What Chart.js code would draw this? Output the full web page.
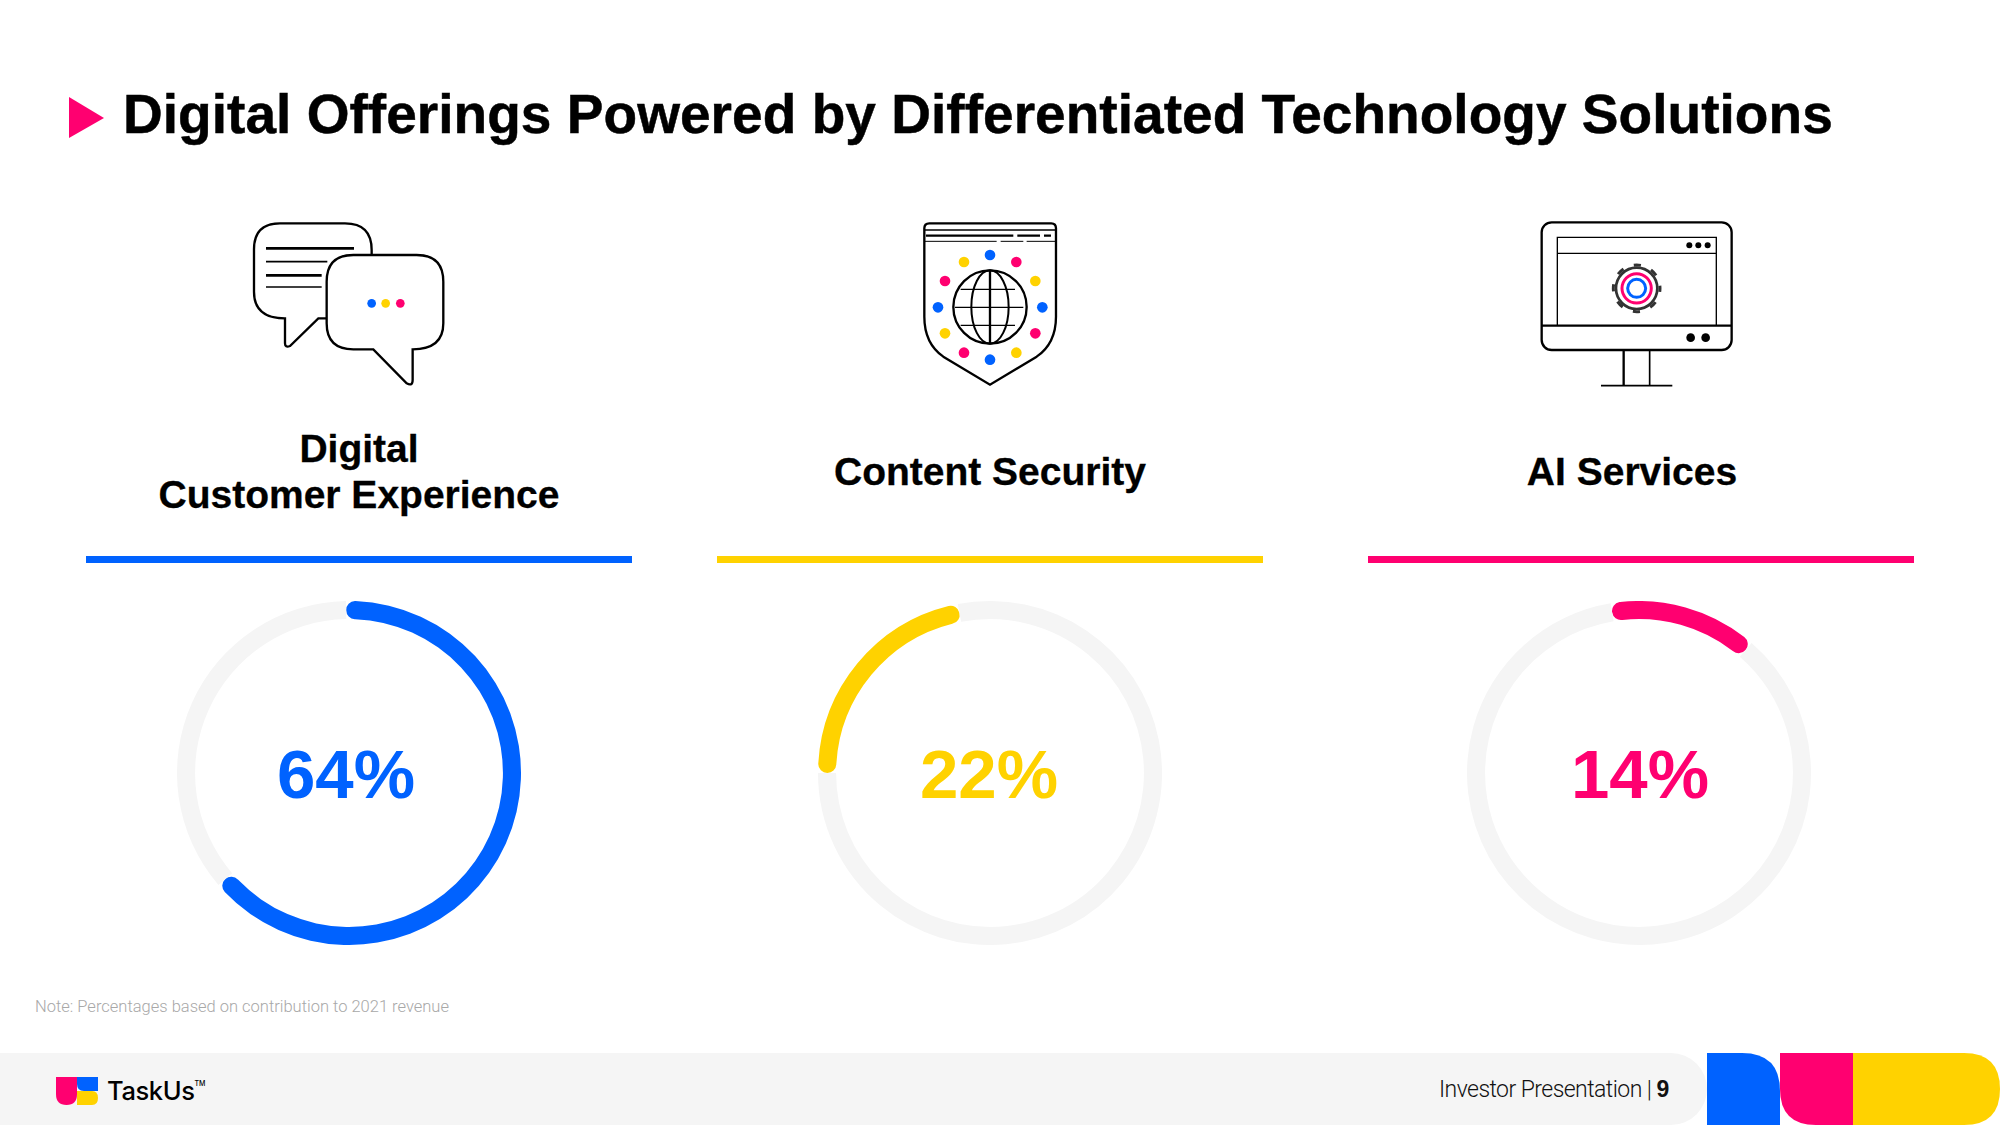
<!DOCTYPE html>
<html>
<head>
<meta charset="utf-8">
<title>Digital Offerings</title>
<script src="https://cdn.jsdelivr.net/npm/chart.js@4"></script>
<style>
    html, body { margin: 0; padding: 0; background: #fff; }
    body { position: relative; width: 2000px; height: 1125px; overflow: hidden; font-family: "Liberation Sans", Arial, sans-serif; color: #000; }
    .abs { position: absolute; white-space: nowrap; }
    #title { left: 123px; top: 81px; font-size: 55px; line-height: 66px; font-weight: 700; letter-spacing: 0.04px; -webkit-text-stroke: 0.5px #000; }
    .cat { font-size: 39px; line-height: 46px; font-weight: 700; text-align: center; transform: translateX(-50%); -webkit-text-stroke: 0.3px #000; }
    .rule { top: 556px; height: 7px; width: 546px; }
    canvas { position: absolute; top: 601px; }
    .pct { top: 735px; font-size: 69px; line-height: 80px; font-weight: 700; transform: translateX(-50%); }
    #note { left: 35px; top: 997px; font-family: Roboto, sans-serif; font-weight: 300; font-size: 16.5px; line-height: 20px; color: #a8a8a8; }
    #foot-text { left: 1439px; top: 1075px; font-family: Roboto, sans-serif; font-weight: 300; font-size: 23px; line-height: 28px; letter-spacing: -0.55px; color: #111; }
    #foot-text b { font-family: "Liberation Sans", sans-serif; font-weight: 700; }
    #brand { left: 107px; top: 1073px; font-family: Inter, sans-serif; font-size: 25.5px; line-height: 36px; font-weight: 500; letter-spacing: -0.4px; }
    #brand sup { font-size: 7px; letter-spacing: 0; vertical-align: 14px; line-height: 0; }
    svg { position: absolute; left: 0; top: 0; }
</style>
</head>
<body>
<svg width="2000" height="1125" viewBox="0 0 2000 1125">
    <path d="M69 97 L104 118 L69 138 Z" fill="#ff0070"/>

    <!-- footer -->
    <path d="M0 1053 H1671 A36 36 0 0 1 1671 1125 H0 Z" fill="#f5f5f5"/>
    <path d="M1707 1053 H1742 Q1780 1053 1780 1091 V1125 H1707 Z" fill="#0062ff"/>
    <path d="M1780 1053 H1854 V1125 H1816 Q1780 1125 1780 1089 Z" fill="#ff0070"/>
    <path d="M1853 1053 H1964 Q2000 1053 2000 1089 Q2000 1125 1964 1125 H1853 Z" fill="#ffd200"/>

    <!-- logo -->
    <path d="M56 1077 H77 V1094 Q77 1105 66.500 1105 Q56 1105 56 1094 Z" fill="#ff0070"/>
    <path d="M77 1077 H98 V1091 H84 Q77 1091 77 1084 Z" fill="#0062ff"/>
    <path d="M77 1091 H92 Q98 1091 98 1098 Q98 1105 92 1105 H77 Z" fill="#ffd200"/>

    <!-- chat icon -->
    <g transform="translate(240 210) scale(0.3333)" fill="none" stroke="#000" stroke-width="7">
        <path d="M395 135 V120 Q395 40 315 40 H120 Q42 40 42 118 V245 Q42 325 135 325 V400 Q135 414 150 408 L235 325 H260"/>
        <path d="M78 115 H342" stroke-width="8"/>
        <path d="M78 155 H262" stroke-width="5"/>
        <path d="M78 196 H245" stroke-width="8"/>
        <path d="M78 231 H245" stroke-width="5"/>
        <path d="M340 135 H530 Q610 135 610 215 V340 Q610 418 518 418 V510 Q518 530 500 520 L400 418 H340 Q260 418 260 340 V215 Q260 135 340 135 Z"/>
        <g stroke="none">
            <circle cx="395" cy="280" r="13" fill="#0062ff"/>
            <circle cx="437" cy="280" r="13" fill="#ffd200"/>
            <circle cx="481" cy="280" r="13" fill="#ff0070"/>
        </g>
    </g>

    <!-- shield icon -->
    <g transform="translate(890 210) scale(0.3333)" fill="none" stroke="#000" stroke-width="7">
        <path d="M103 55 Q103 40 118 40 H484 Q498 40 498 55 V320 Q498 400 440 440 L300 524 L160 440 Q103 400 103 320 Z"/>
        <path d="M105 60 H496" stroke-width="4"/>
        <path d="M108 77 H370 M382 77 H450 M462 77 H483" stroke-width="7"/>
        <path d="M105 94 H320 M332 94 H400 M410 94 H496" stroke-width="3"/>
        <g stroke="none">
            <circle cx="300" cy="135" r="16" fill="#0062ff"/>
            <circle cx="379" cy="156" r="16" fill="#ff0070"/>
            <circle cx="436" cy="213" r="16" fill="#ffd200"/>
            <circle cx="457" cy="292" r="16" fill="#0062ff"/>
            <circle cx="436" cy="370" r="16" fill="#ff0070"/>
            <circle cx="379" cy="428" r="16" fill="#ffd200"/>
            <circle cx="300" cy="449" r="16" fill="#0062ff"/>
            <circle cx="222" cy="428" r="16" fill="#ff0070"/>
            <circle cx="165" cy="370" r="16" fill="#ffd200"/>
            <circle cx="144" cy="292" r="16" fill="#0062ff"/>
            <circle cx="165" cy="213" r="16" fill="#ff0070"/>
            <circle cx="222" cy="156" r="16" fill="#ffd200"/>
        </g>
        <circle cx="300" cy="291" r="110"/>
        <ellipse cx="300" cy="291" rx="56" ry="110" stroke-width="6"/>
        <path d="M300 181 V401"/>
        <path d="M212 238 H375 M195 292 H400 M212 346 H375" stroke-width="4"/>
    </g>

    <!-- monitor icon -->
    <g transform="translate(1520 210) scale(0.3333)" fill="none" stroke="#000" stroke-width="7">
        <rect x="65" y="37" width="570" height="383" rx="30"/>
        <path d="M65 347 H635"/>
        <path d="M112 347 V82 H589 V347 M112 130 H589" stroke-width="4"/>
        <path d="M311 420 V527" stroke-width="7"/>
        <path d="M389 420 V527" stroke-width="5"/>
        <path d="M243 527 H457" stroke-width="5"/>
        <g stroke="none" fill="#000">
            <circle cx="508" cy="106" r="9"/>
            <circle cx="535" cy="106" r="9"/>
            <circle cx="563" cy="106" r="9"/>
            <circle cx="512" cy="383" r="13"/>
            <circle cx="557" cy="383" r="13"/>
        </g>
        <circle cx="350" cy="235" r="62" stroke="#333" stroke-width="8"/>
        <circle cx="350" cy="235" r="70" stroke="#333" stroke-width="9" stroke-dasharray="22 32.980" stroke-dashoffset="11"/>
        <circle cx="350" cy="235" r="44" stroke="#ff0070" stroke-width="9"/>
        <circle cx="350" cy="235" r="27" stroke="#0062ff" stroke-width="9"/>
    </g>
</svg>

<div class="abs" id="title">Digital Offerings Powered by Differentiated Technology Solutions</div>
<div class="abs" id="note">Note: Percentages based on contribution to 2021 revenue</div>
<div class="abs" id="foot-text">Investor Presentation | <b>9</b></div>
<div class="abs" id="brand">TaskUs<sup>TM</sup></div>

<script>
const categories = ['Digital\nCustomer Experience', 'Content Security', 'AI Services'];
const shareValues = [64, 22, 14];
const restValues = [36, 78, 86];
const ringColors = ['#0062ff', '#ffd200', '#ff0070'];
const trackColor = '#f5f5f5';

// layout per column
const ringLeft = [177, 818, 1467];
const ringRotation = [-1, -90, -9.5];
const labelCenter = [359, 990, 1632];
const labelTop = [426, 449, 449];
const ruleLeft = [86, 717, 1368];
const pctCenter = [346, 989, 1640];

function addDiv(cls, text, left, top, color) {
    const el = document.createElement('div');
    el.className = 'abs ' + cls;
    el.innerText = text;
    el.style.left = left + 'px';
    if (top !== null) el.style.top = top + 'px';
    if (color) el.style.color = color;
    document.body.appendChild(el);
    return el;
}

categories.forEach((name, i) => {
    addDiv('cat', name, labelCenter[i], labelTop[i]);

    const rule = addDiv('rule', '', ruleLeft[i], null);
    rule.style.background = ringColors[i];

    const canvas = document.createElement('canvas');
    canvas.width = 344;
    canvas.height = 344;
    canvas.style.left = ringLeft[i] + 'px';
    document.body.appendChild(canvas);

    new Chart(canvas, {
        type: 'doughnut',
        data: {
            labels: [name.replace('\n', ' '), 'Other'],
            datasets: [{
                data: [shareValues[i], restValues[i]],
                backgroundColor: [ringColors[i], trackColor],
                borderWidth: 0,
                borderRadius: [9, 0]
            }]
        },
        options: {
            responsive: false,
            animation: false,
            rotation: ringRotation[i],
            cutout: '89.5%',
            events: [],
            plugins: { legend: { display: false }, tooltip: { enabled: false } }
        }
    });

    addDiv('pct', shareValues[i] + '%', pctCenter[i], null, ringColors[i]);
});
</script>
</body>
</html>
